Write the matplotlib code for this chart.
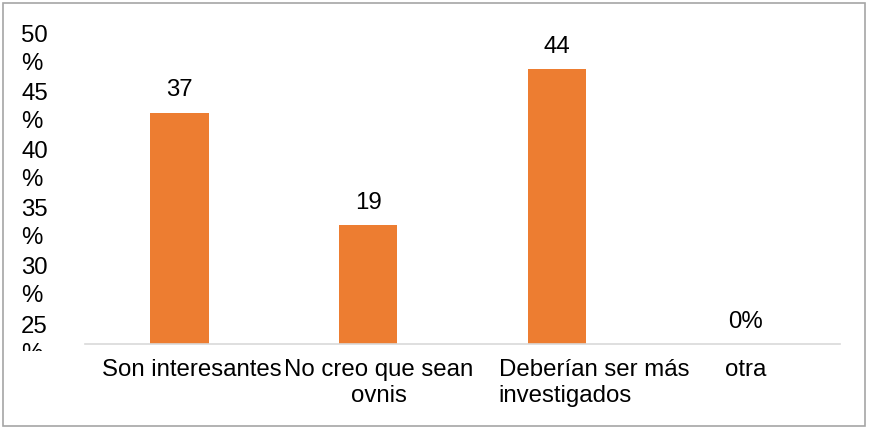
import matplotlib.pyplot as plt
import numpy as np
from matplotlib.patches import Rectangle
from matplotlib.transforms import Bbox, TransformedBbox, ScaledTranslation

categories = ["Son interesantes", "No creo que sean\novnis", "Deberían ser más\ninvestigados", "otra"]
values = [37, 19, 44, 0]
value_labels = ["37", "19", "44", "0%"]
ytick_labels = ["25\n%", "30\n%", "35\n%", "40\n%", "45\n%", "50\n%"]

plt.rcParams['font.family'] = ['Liberation Sans', 'DejaVu Sans']
fs = 17.3

fig = plt.figure(figsize=(8.69, 4.30), dpi=100)
ax = fig.add_axes([85 / 869, 86 / 430, 755 / 869, 324 / 430])

x = np.arange(len(categories))
bars = ax.bar(x, values, width=0.31, color='#ED7D31', zorder=2)

for xi, v, lab in zip(x, values, value_labels):
    ax.annotate(lab, (xi, v), xytext=(0, 8), textcoords='offset points',
                ha='center', va='bottom', fontsize=fs, color='#000000')

ax.set_xlim(-0.5, 3.5)
ax.set_ylim(0, 51.8)

# etiquetas del eje y (como en el original, partidas en dos líneas)
ytick_pos = 0.55 + 9.3 * np.arange(len(ytick_labels))
ax.set_yticks(ytick_pos, ytick_labels)
ax.tick_params(axis='y', length=0, pad=46, labelsize=fs)
clip = TransformedBbox(Bbox([[0, 0.184], [1, 1]]), fig.transFigure)
for lbl in ax.get_yticklabels():
    lbl.set_ha('left')
    lbl.set_va('center')
    lbl.set_linespacing(1.34)
    lbl.set_clip_box(clip)
    lbl.set_clip_on(True)

ax.set_xticks(x, categories)
ax.tick_params(axis='x', length=0, pad=11, labelsize=fs)
offsets = [12, 11, 37, 0]
for lbl, dx in zip(ax.get_xticklabels(), offsets):
    lbl.set_transform(lbl.get_transform() + ScaledTranslation(dx / 100, 0, fig.dpi_scale_trans))
ax.get_xticklabels()[2].set_multialignment('left')

for s in ['top', 'right', 'left']:
    ax.spines[s].set_visible(False)
ax.spines['bottom'].set_color('#D9D9D9')
ax.spines['bottom'].set_linewidth(1.2)

fig.patches.append(Rectangle((3 / 869, 4 / 430), 862 / 869, 423 / 430, transform=fig.transFigure,
                             fill=False, edgecolor='#A6A6A6', linewidth=1.2))

plt.savefig('out.png', dpi=100)
